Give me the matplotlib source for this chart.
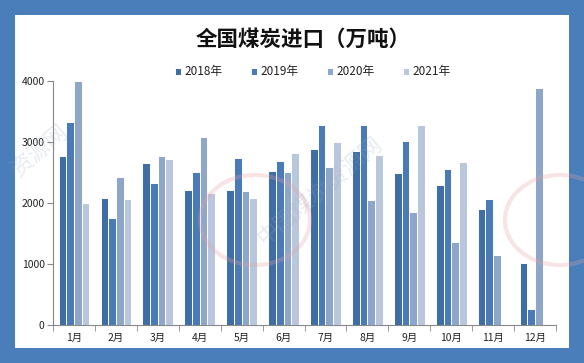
import numpy as np
import matplotlib
matplotlib.use("Agg")
import matplotlib.pyplot as plt
from matplotlib.patches import Rectangle, Ellipse

plt.rcParams['font.family'] = ['Noto Sans CJK SC', 'DejaVu Sans']

# Data (万吨)
months = ['1月', '2月', '3月', '4月', '5月', '6月', '7月', '8月', '9月', '10月', '11月', '12月']
years = ['2018年', '2019年', '2020年', '2021年']
imp_2018 = [2770, 2087, 2656, 2219, 2219, 2525, 2885, 2852, 2492, 2295, 1902, 1016]
imp_2019 = [3328, 1749, 2328, 2508, 2738, 2689, 3279, 3279, 3016, 2557, 2066, 262]
imp_2020 = [4000, 2432, 2770, 3082, 2197, 2508, 2590, 2049, 1852, 1361, 1148, 3885]
imp_2021 = [2005, 2066, 2721, 2164, 2082, 2820, 3000, 2787, 3279, 2672, 0, 0]
colors = ['#3f6ea7', '#4a7bb7', '#8ea6c9', '#b9c6dc']

W, H = 584, 363
fig = plt.figure(figsize=(W / 100, H / 100), dpi=100, facecolor='#4a7ebb')
fig.patches.append(Rectangle((15 / W, 15 / H), (569 - 15) / W, (348 - 15) / H,
                             transform=fig.transFigure, facecolor='white',
                             edgecolor='none', zorder=-5))

ax = fig.add_axes([53 / W, (H - 325) / H, (556 - 53) / W, 244 / H])
ax.set_facecolor('none')

x = np.arange(len(months))
bw = 0.183
series = [imp_2018, imp_2019, imp_2020, imp_2021]
for i, vals in enumerate(series):
    ax.bar(x + (i - 1.5) * bw, vals, width=bw, color=colors[i],
           edgecolor='white', linewidth=0.7, label=years[i], zorder=3)

ax.set_xlim(-0.5, len(months) - 0.5)
ax.set_ylim(0, 4000)
ax.set_yticks([0, 1000, 2000, 3000, 4000])
ax.set_xticks(x)
ax.set_xticklabels(months)
ax.set_xticks(np.arange(-0.5, len(months)), minor=True)
ax.tick_params(axis='x', which='major', length=0, labelsize=7.5, pad=6, colors='#222222')
ax.tick_params(axis='x', which='minor', length=4, color='#888888')
ax.tick_params(axis='y', length=4, color='#888888', labelsize=7.5, colors='#222222', pad=2)
for s in ['top', 'right']:
    ax.spines[s].set_visible(False)
for s in ['left', 'bottom']:
    ax.spines[s].set_color('#888888')
    ax.spines[s].set_linewidth(0.8)

fig.text(303 / W, 1 - 39 / H, '全国煤炭进口（万吨）', ha='center', va='center',
         fontsize=15.5, fontweight='bold', color='#111111')

leg = fig.legend(loc='center', bbox_to_anchor=(313 / W, 1 - 72 / H), ncol=4,
                 frameon=False, fontsize=8.5, handlelength=0.55, handleheight=0.55,
                 columnspacing=2.35, handletextpad=0.3)
for t in leg.get_texts():
    t.set_color('#222222')

# faint watermarks
wm = dict(fontsize=16, color='#9aa7b8', alpha=0.22, rotation=40, ha='center',
          va='center', zorder=1)
fig.text(40 / W, 1 - 150 / H, '资源网', **wm)
fig.text(320 / W, 1 - 190 / H, '中国煤炭资源网', **wm)
for cx, cy in [(255, 220), (560, 220)]:
    fig.patches.append(Ellipse((cx / W, 1 - cy / H), 110 / W, 90 / H,
                               transform=fig.transFigure, facecolor='none',
                               edgecolor='#e8a0a0', linewidth=3, alpha=0.28, zorder=1))

fig.savefig('out.png', dpi=100, facecolor=fig.get_facecolor())
